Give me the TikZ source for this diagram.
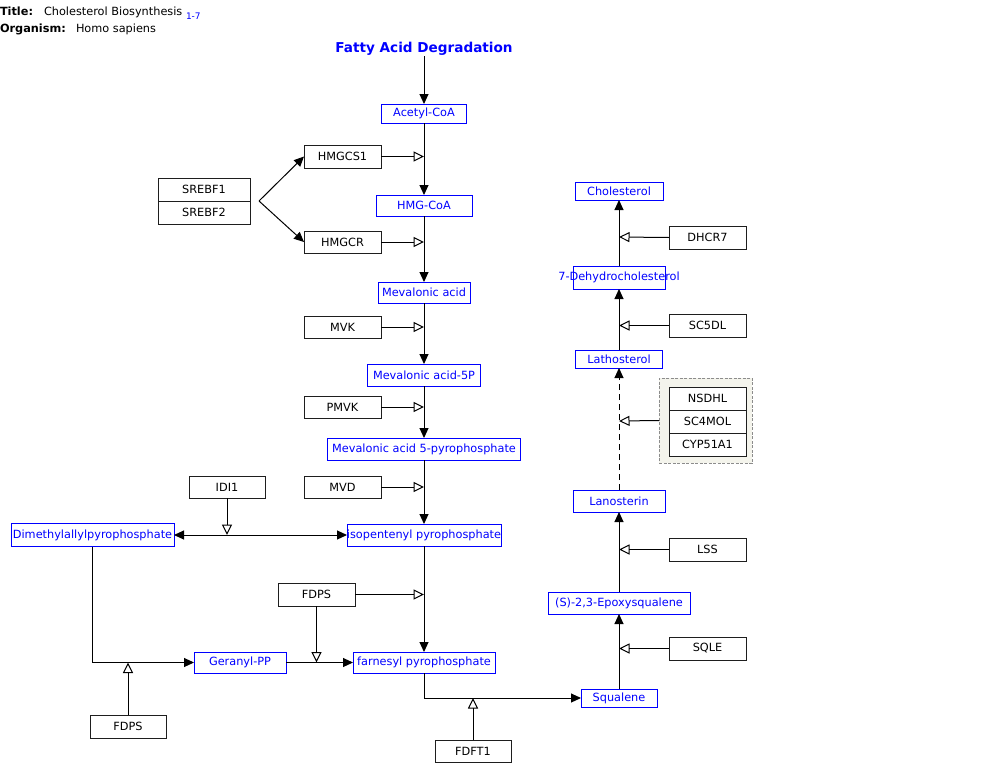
\documentclass[tikz,border=0pt]{standalone}
\usepackage{fontspec}
\setmainfont{DejaVu Sans}
\usetikzlibrary{arrows.meta}
\definecolor{wpblue}{RGB}{0,0,255}
\definecolor{groupfill}{RGB}{244,244,236}
\definecolor{groupline}{RGB}{140,140,140}
\definecolor{geneline}{RGB}{30,30,30}
% zero-width label so the box keeps its own size
\newcommand\fixw[1]{\makebox[0pt]{#1}}

\begin{document}
\begin{tikzpicture}[x=1pt,y=-1pt,
  font=\fontsize{11.3}{13}\selectfont,
  every node/.style={inner sep=0pt, outer sep=0pt},
  sz/.style 2 args={minimum width=#1pt, minimum height=#2pt},
  met/.style={draw=wpblue, text=wpblue, line width=1pt, fill=white},
  gene/.style={draw=geneline, line width=1pt, fill=white},
  conv/.style={line width=1pt, -{Triangle[length=10pt,width=9pt]}},
  catal/.style={line width=1pt, -{Triangle[open,length=10.5pt,width=10pt]}},
]
\useasboundingbox (0,0) rectangle (1000,779);

% header
\node[anchor=base west] (tlab) at (0,16) {\textbf{Title:}};
\node[anchor=base west] (tval) at (44,16) {Cholesterol Biosynthesis};
\node[anchor=base west, text=wpblue, font=\fontsize{9}{10}\selectfont] (tref) at (186,19) {1-7};
\node[anchor=base west] (olab) at (0,32) {\textbf{Organism:}};
\node[anchor=base west] (oval) at (76,32) {Homo sapiens};

\node[text=wpblue, font=\fontsize{13.6}{15}\bfseries] (fad) at (424,48.5) {Fatty Acid Degradation};

% metabolites
\node[met, sz={85}{19}] (acetyl) at (424,113.5) {\fixw{Acetyl-CoA}};
\node[met, sz={96}{21}] (hmgcoa) at (424,205.5) {\fixw{HMG-CoA}};
\node[met, sz={92}{21}] (meva) at (424,292.5) {\fixw{Mevalonic acid}};
\node[met, sz={113}{22}] (mev5p) at (424,375) {\fixw{Mevalonic acid-5P}};
\node[met, sz={193}{22}] (mevpp) at (424,449) {\fixw{Mevalonic acid 5-pyrophosphate}};
\node[met, sz={154}{22}] (ipp) at (424,535) {\fixw{isopentenyl pyrophosphate}};
\node[met, sz={163}{23}] (dmapp) at (92.5,535) {\fixw{Dimethylallylpyrophosphate}};
\node[met, sz={92}{21}] (gpp) at (240,662.5) {\fixw{Geranyl-PP}};
\node[met, sz={142}{21}] (fpp) at (424,662.5) {\fixw{farnesyl pyrophosphate}};
\node[met, sz={76}{18}] (squal) at (619,698) {\fixw{Squalene}};
\node[met, sz={142}{22}] (epoxy) at (619,603) {\fixw{(S)-2,3-Epoxysqualene}};
\node[met, sz={92}{22}] (lano) at (619,501) {\fixw{Lanosterin}};
\node[met, sz={87}{18}] (latho) at (619,359) {\fixw{Lathosterol}};
\node[met, sz={92}{23}] (dhc) at (619,277.5) {\fixw{7-Dehydrocholesterol}};
\node[met, sz={88}{18}] (chol) at (619,191) {\fixw{Cholesterol}};

% enzymes
\node[gene, sz={92}{23}] (srebf1) at (204,189.5) {SREBF1};
\node[gene, sz={92}{23}] (srebf2) at (204,212.5) {SREBF2};
\node[gene, sz={77}{23}] (hmgcs1) at (342.5,156.5) {HMGCS1};
\node[gene, sz={77}{22}] (hmgcr) at (342.5,242) {HMGCR};
\node[gene, sz={77}{22}] (mvk) at (342.5,327) {MVK};
\node[gene, sz={77}{22}] (pmvk) at (342.5,407) {PMVK};
\node[gene, sz={77}{22}] (mvd) at (342.5,487) {MVD};
\node[gene, sz={76}{22}] (idi1) at (227,487) {IDI1};
\node[gene, sz={77}{23}] (fdpsa) at (316.5,594.5) {FDPS};
\node[gene, sz={76}{23}] (fdpsb) at (128,726.5) {FDPS};
\node[gene, sz={76}{22}] (fdft1) at (473,751) {FDFT1};
\node[gene, sz={77}{23}] (sqle) at (707.5,648.5) {SQLE};
\node[gene, sz={77}{23}] (lss) at (707.5,549.5) {LSS};
\node[gene, sz={77}{23}] (sc5dl) at (707.5,325.5) {SC5DL};
\node[gene, sz={77}{23}] (dhcr7) at (707.5,237.5) {DHCR7};

% enzyme group
\node[draw=groupline, fill=groupfill, line width=0.8pt, dash pattern=on 3pt off 1.5pt, sz={93}{85}] (grp) at (705.5,420.5) {};
\node[gene, sz={77}{23}] (nsdhl) at (707.5,398.5) {NSDHL};
\node[gene, sz={77}{23}] (sc4mol) at (707.5,421.5) {SC4MOL};
\node[gene, sz={77}{23}] (cyp51) at (707.5,444.5) {CYP51A1};

% reaction points on the conversion lines
\coordinate (r1) at (424,156.5);
\coordinate (r2) at (424,242);
\coordinate (r3) at (424,327);
\coordinate (r4) at (424,407);
\coordinate (r5) at (424,487);
\coordinate (r6) at (227,535);
\coordinate (r7) at (424,594.5);
\coordinate (r8) at (316.5,662.5);
\coordinate (r9) at (128,662.5);
\coordinate (r10) at (473,698);
\coordinate (r11) at (619,648.5);
\coordinate (r12) at (619,549.5);
\coordinate (r13) at (619,421);
\coordinate (r14) at (619,325.5);
\coordinate (r15) at (619,237);
\coordinate (sreb) at (259,201);

% conversions
\draw[conv] (fad.south) ++(0,1) -- (acetyl.north);
\draw[conv] (acetyl) -- (hmgcoa);
\draw[conv] (hmgcoa) -- (meva);
\draw[conv] (meva) -- (mev5p);
\draw[conv] (mev5p) -- (mevpp);
\draw[conv] (mevpp) -- (ipp);
\draw[line width=1pt, {Triangle[length=10pt,width=9pt]}-{Triangle[length=10pt,width=9pt]}] (dmapp.east) -- (ipp.west);
\draw[conv] (dmapp.south) |- (gpp.west);
\draw[conv] (ipp) -- (fpp);
\draw[conv] (gpp) -- (fpp);
\draw[conv] (fpp.south) |- (squal.west);
\draw[conv] (squal) -- (epoxy);
\draw[conv] (epoxy) -- (lano);
\draw[conv, dash pattern=on 6pt off 4pt] (lano) -- (latho);
\draw[conv] (latho) -- (dhc);
\draw[conv] (dhc) -- (chol);

% regulation by SREBF
\draw[conv] (sreb) -- (hmgcs1.west);
\draw[conv] (sreb) -- (hmgcr.west);

% catalysis
\draw[catal] (hmgcs1.east) -- (r1);
\draw[catal] (hmgcr.east) -- (r2);
\draw[catal] (mvk.east) -- (r3);
\draw[catal] (pmvk.east) -- (r4);
\draw[catal] (mvd.east) -- (r5);
\draw[catal] (idi1.south) -- (r6);
\draw[catal] (fdpsa.east) -- (r7);
\draw[catal] (fdpsa.south) -- (r8);
\draw[catal] (fdpsb.north) -- (r9);
\draw[catal] (fdft1.north) -- (r10);
\draw[catal] (sqle.west) -- (r11);
\draw[catal] (lss.west) -- (r12);
\draw[catal] (grp.west) -- (r13);
\draw[catal] (sc5dl.west) -- (r14);
\draw[catal] (dhcr7.west) -- (r15);
\end{tikzpicture}
\end{document}
